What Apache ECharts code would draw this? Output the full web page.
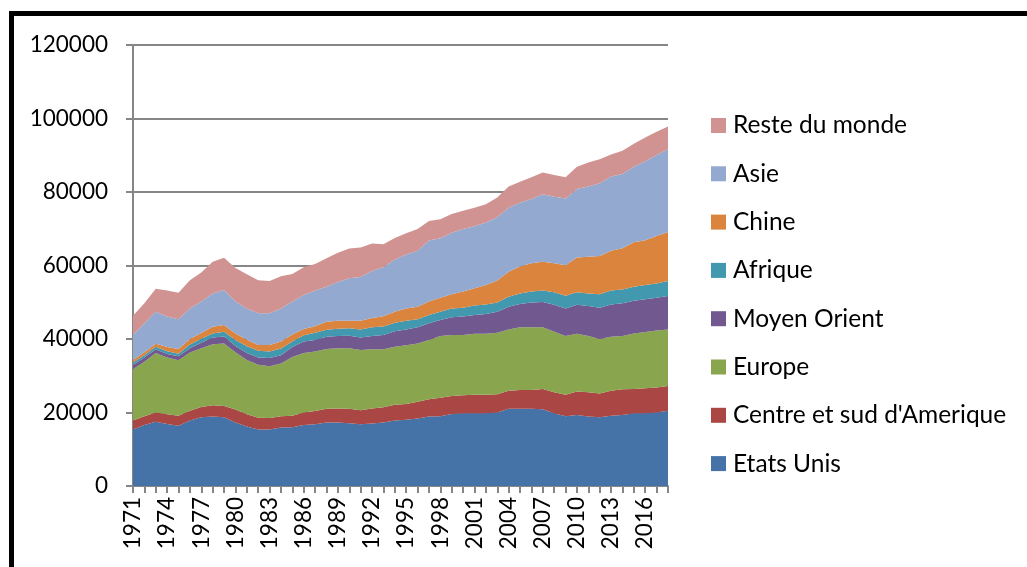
<!DOCTYPE html>
<html>
<head>
<meta charset="utf-8">
<script src="https://cdn.jsdelivr.net/npm/echarts@6/dist/echarts.min.js"></script>
<style>
  html, body { margin: 0; padding: 0; background: #fff; }
  #container { width: 1027px; height: 567px; }
</style>
</head>
<body>
<div id="container"></div>
<script>
let years = [];
for (let y = 1971; y <= 2018; y++) years.push(String(y));

// valeurs (milliers)
let etatsUnis = [15.4, 16.6, 17.5, 16.9, 16.4, 17.8, 18.7, 18.9, 18.7, 17.3, 16.2, 15.4, 15.4, 15.9, 16.0, 16.6,
    16.8, 17.3, 17.3, 17.1, 16.8, 17.0, 17.3, 17.8, 18.0, 18.4, 18.9, 19.0, 19.6, 19.8, 19.8, 19.8,
    20.0, 21.0, 21.0, 21.0, 20.9, 19.8, 19.0, 19.3, 18.9, 18.7, 19.1, 19.3, 19.8, 19.8, 20.0, 20.5];
let centreSud = [2.4, 2.4, 2.5, 2.6, 2.7, 2.7, 2.8, 3.1, 3.1, 3.5, 3.3, 3.2, 3.1, 3.1, 3.1, 3.4,
    3.6, 3.7, 3.8, 3.9, 3.8, 4.1, 4.1, 4.3, 4.3, 4.5, 4.7, 5.0, 4.9, 4.9, 5.0, 5.0,
    5.0, 4.9, 5.1, 5.1, 5.5, 5.7, 5.8, 6.4, 6.6, 6.5, 6.8, 7.0, 6.6, 6.8, 6.8, 6.7];
let europe = [14.0, 14.8, 16.2, 15.5, 15.1, 15.8, 16.0, 16.6, 17.0, 15.6, 14.8, 14.4, 14.1, 14.3, 16.0, 16.2,
    16.2, 16.3, 16.4, 16.5, 16.4, 16.1, 15.8, 15.8, 16.0, 15.9, 16.1, 16.8, 16.6, 16.4, 16.6, 16.6,
    16.7, 16.7, 17.1, 17.1, 16.8, 16.5, 16.0, 15.7, 15.3, 14.8, 14.7, 14.5, 15.1, 15.3, 15.5, 15.4];
let moyenOrient = [1.1, 1.2, 1.0, 0.9, 1.1, 1.2, 1.5, 1.8, 1.9, 1.7, 1.9, 2.0, 2.2, 2.3, 2.7, 3.1,
    3.1, 3.3, 3.3, 3.4, 3.4, 3.6, 3.9, 4.2, 4.3, 4.4, 4.6, 4.4, 4.8, 5.0, 5.1, 5.4,
    5.7, 6.2, 6.3, 6.7, 6.9, 7.3, 7.5, 7.9, 8.2, 8.5, 8.8, 8.9, 8.9, 8.9, 8.9, 9.1];
let afrique = [0.7, 0.6, 0.7, 0.8, 0.7, 1.0, 1.1, 1.1, 1.3, 1.6, 1.8, 1.8, 1.8, 1.8, 1.5, 1.7,
    2.0, 1.9, 2.0, 2.0, 2.2, 2.4, 2.3, 2.3, 2.4, 2.2, 2.2, 2.2, 2.4, 2.4, 2.6, 2.6,
    2.5, 2.7, 2.9, 3.0, 3.1, 3.4, 3.5, 3.4, 3.4, 3.7, 3.8, 3.8, 3.8, 3.9, 3.9, 4.1];
let chine = [0.7, 0.8, 0.8, 1.1, 1.3, 1.5, 1.5, 1.8, 1.8, 1.8, 1.8, 1.6, 1.8, 1.9, 1.9, 1.7,
    1.8, 2.2, 2.2, 2.1, 2.4, 2.5, 2.8, 3.0, 3.3, 3.4, 3.7, 3.8, 3.9, 4.4, 4.7, 5.3,
    6.0, 6.8, 7.3, 7.7, 7.8, 7.9, 8.3, 9.5, 10.0, 10.4, 10.8, 11.2, 12.1, 12.2, 12.9, 13.3];
let asie = [6.8, 7.9, 8.7, 8.3, 8.1, 8.3, 8.6, 9.1, 9.5, 8.7, 8.5, 8.6, 8.6, 9.0, 9.0, 9.3,
    9.7, 9.5, 10.5, 11.5, 11.9, 12.8, 13.3, 14.2, 14.7, 15.2, 16.6, 16.2, 16.7, 17.0, 16.9, 17.0,
    17.2, 17.4, 17.4, 17.5, 18.4, 18.1, 18.1, 18.6, 19.1, 19.8, 20.2, 20.2, 20.6, 21.5, 22.1, 22.5];
let resteMonde = [5.2, 5.4, 6.3, 7.1, 7.2, 7.7, 7.9, 8.6, 8.8, 9.1, 9.3, 9.0, 8.8, 8.8, 7.5, 7.5,
    7.2, 7.8, 8.0, 8.1, 8.0, 7.5, 6.3, 5.9, 5.8, 5.9, 5.3, 5.2, 5.1, 5.0, 5.0, 5.0,
    5.4, 5.8, 5.7, 5.9, 5.9, 5.9, 5.8, 6.1, 6.5, 6.5, 6.0, 6.3, 6.2, 6.4, 6.3, 6.2];

let seriesNames = ["Etats Unis", "Centre et sud d'Amerique", "Europe", "Moyen Orient", "Afrique", "Chine", "Asie", "Reste du monde"];
let seriesData = [etatsUnis, centreSud, europe, moyenOrient, afrique, chine, asie, resteMonde];
let colors = ["#4572A7", "#AA4643", "#89A54E", "#71588F", "#4198AF", "#DB843D", "#93A9CF", "#D19392"];

let FONT = "Lato, 'Open Sans', sans-serif";

let dom = document.getElementById("container");
let myChart = echarts.init(dom, null, { renderer: 'canvas' });

let option = {
    animation: false,
    backgroundColor: '#fff',
    color: colors,
    grid: { left: 133, right: 359, top: 45, bottom: 81, containLabel: false },
    legend: {
        orient: 'vertical',
        left: 711,
        top: 110.5,
        padding: 0,
        icon: 'rect',
        itemWidth: 15,
        itemHeight: 15,
        itemGap: 18.3,
        data: seriesNames.slice().reverse(),
        textStyle: { fontFamily: FONT, fontSize: 24.5, color: '#000', lineHeight: 30, padding: [0, 0, 0, 2] }
    },
    xAxis: {
        type: 'category',
        data: years,
        boundaryGap: false,
        axisLine: { lineStyle: { color: '#868686', width: 2 } },
        axisTick: { show: true, interval: 0, length: 7, lineStyle: { color: '#868686', width: 2 } },
        axisLabel: { interval: 2, rotate: 90, margin: 11, fontFamily: FONT, fontSize: 22.5, color: '#000' },
        splitLine: { show: false }
    },
    yAxis: {
        type: 'value',
        min: 0,
        max: 120000,
        interval: 20000,
        axisLine: { show: true, lineStyle: { color: '#868686', width: 2 } },
        axisTick: { show: true, inside: false, length: 7, lineStyle: { color: '#868686', width: 2 } },
        axisLabel: {
            margin: 25, fontFamily: FONT, fontSize: 22.5, color: '#000',
            formatter: function (v) { return String(v); }
        },
        splitLine: { lineStyle: { color: '#868686', width: 2 } }
    },
    graphic: [
        { type: 'rect', shape: { x: 9, y: 11, width: 1020, height: 5 }, style: { fill: '#000' } },
        { type: 'rect', shape: { x: 9, y: 11, width: 5, height: 560 }, style: { fill: '#000' } }
    ],
    series: seriesNames.map(function (name, i) {
        return {
            name: name,
            type: 'line',
            stack: 'total',
            data: seriesData[i].map(function (v) { return Math.round(v * 1000); }),
            showSymbol: false,
            symbol: 'none',
            lineStyle: { width: 0 },
            areaStyle: { opacity: 1, color: colors[i] },
            emphasis: { disabled: true }
        };
    })
};
myChart.setOption(option);
</script>
</body>
</html>
